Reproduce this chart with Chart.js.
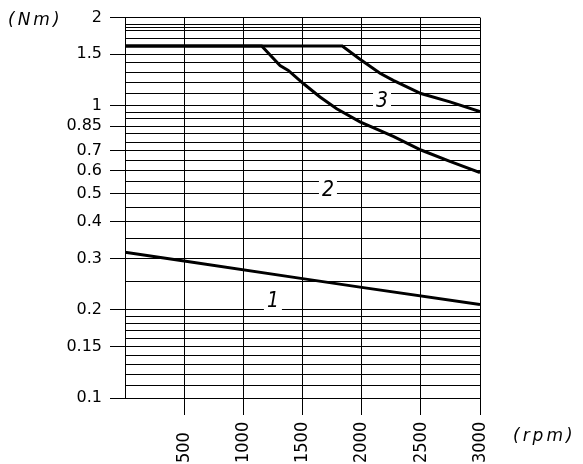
<!DOCTYPE html>
<html>
<head>
<meta charset="utf-8">
<script src="https://cdn.jsdelivr.net/npm/chart.js@4"></script>
<style>
  body { margin: 0; background: #fff; }
</style>
</head>
<body>
<canvas id="myChart" width="583" height="464"></canvas>
<script>
// curve 1
const rpm1 = [0, 500, 1500, 2000, 3000];
const torque1 = [0.315, 0.294, 0.256, 0.239, 0.209];
// curve 2
const rpm2 = [0, 1155, 1310, 1380, 1507, 1648, 1789, 1986, 2267, 2501, 2746, 3000];
const torque2 = [1.6, 1.6, 1.37, 1.32, 1.19, 1.07, 0.975, 0.88, 0.785, 0.705, 0.645, 0.59];
// curve 3
const rpm3 = [0, 1836, 1986, 2155, 2267, 2501, 2746, 3000];
const torque3 = [1.6, 1.6, 1.44, 1.29, 1.22, 1.1, 1.03, 0.955];

const yGrid = [0.1, 0.11, 0.12, 0.13, 0.14, 0.15, 0.16, 0.17, 0.18, 0.19, 0.2,
  0.25, 0.3, 0.35, 0.4, 0.45, 0.5, 0.55, 0.6, 0.65, 0.7, 0.75, 0.8, 0.85, 0.9, 0.95, 1,
  1.1, 1.2, 1.3, 1.4, 1.5, 1.6, 1.7, 1.8, 1.85, 1.9, 2];
const yLabels = [0.1, 0.15, 0.2, 0.3, 0.4, 0.5, 0.6, 0.7, 0.85, 1, 1.5, 2];
const xLabels = [500, 1000, 1500, 2000, 2500, 3000];

const curveNames = ['1', '2', '3'];
const curveLabelRpm = [1250, 1715, 2172];
const curveLabelNm = [0.213, 0.513, 1.03];

function toPoints(xs, ys) {
  return xs.map((v, i) => ({ x: v, y: ys[i] }));
}

const lineStyle = {
  borderColor: '#000',
  borderWidth: 3,
  pointRadius: 0,
  fill: false,
  tension: 0
};

const textPlugin = {
  id: 'texts',
  afterDatasetsDraw(chart) {
    const { ctx, scales: { x, y } } = chart;
    ctx.save();
    ctx.font = 'italic 21px "DejaVu Sans Condensed", "DejaVu Sans"';
    ctx.textAlign = 'center';
    ctx.textBaseline = 'middle';
    curveNames.forEach((name, i) => {
      const px = x.getPixelForValue(curveLabelRpm[i]);
      const py = y.getPixelForValue(curveLabelNm[i]);
      ctx.fillStyle = '#fff';
      ctx.fillRect(px - 9, py - 10, 18, 20);
      ctx.fillStyle = '#000';
      ctx.fillText(name, px, py);
    });
    ctx.restore();
  },
  afterDraw(chart) {
    const { ctx, scales: { x } } = chart;
    ctx.save();
    ctx.fillStyle = '#000';
    ctx.font = '18px "DejaVu Sans Condensed", "DejaVu Sans"';
    ctx.textAlign = 'left';
    ctx.textBaseline = 'middle';
    xLabels.forEach(v => {
      ctx.save();
      ctx.translate(x.getPixelForValue(v), 463);
      ctx.rotate(-Math.PI / 2);
      ctx.fillText(String(v), 0, 0);
      ctx.restore();
    });
    ctx.font = 'italic 17px "DejaVu Sans"';
    ctx.letterSpacing = '3px';
    ctx.fillText('(Nm)', 8, 21);
    ctx.fillText('(rpm)', 513, 437);
    ctx.restore();
  }
};

new Chart(document.getElementById('myChart'), {
  type: 'line',
  data: {
    datasets: [
      { data: toPoints(rpm1, torque1), ...lineStyle },
      { data: toPoints(rpm2, torque2), ...lineStyle },
      { data: toPoints(rpm3, torque3), ...lineStyle }
    ]
  },
  options: {
    responsive: false,
    animation: false,
    layout: { padding: { left: 0, right: 103, top: 15, bottom: 0 } },
    plugins: { legend: { display: false }, tooltip: { enabled: false } },
    scales: {
      x: {
        type: 'linear',
        min: 0,
        max: 3000,
        afterFit: s => { s.height = 66; },
        ticks: { stepSize: 500, display: false },
        grid: {
          color: '#000',
          lineWidth: 1,
          tickLength: 17,
          tickColor: c => (c.tick && c.tick.value === 0) ? 'rgba(0,0,0,0)' : '#000'
        },
        border: { color: '#000', width: 1 }
      },
      y: {
        type: 'logarithmic',
        min: 0.1,
        max: 2,
        afterFit: s => { s.width = 125; },
        afterBuildTicks: s => { s.ticks = yGrid.map(v => ({ value: v })); },
        ticks: {
          autoSkip: false,
          padding: 8,
          color: '#000',
          font: { family: '"DejaVu Sans"', size: 16 },
          callback: v => yLabels.includes(v) ? String(v) : ''
        },
        grid: {
          color: '#000',
          lineWidth: 1,
          tickLength: 15,
          tickColor: c => (c.tick && yLabels.includes(c.tick.value)) ? '#000' : 'rgba(0,0,0,0)'
        },
        border: { color: '#000', width: 1 }
      }
    }
  },
  plugins: [textPlugin]
});
</script>
</body>
</html>
